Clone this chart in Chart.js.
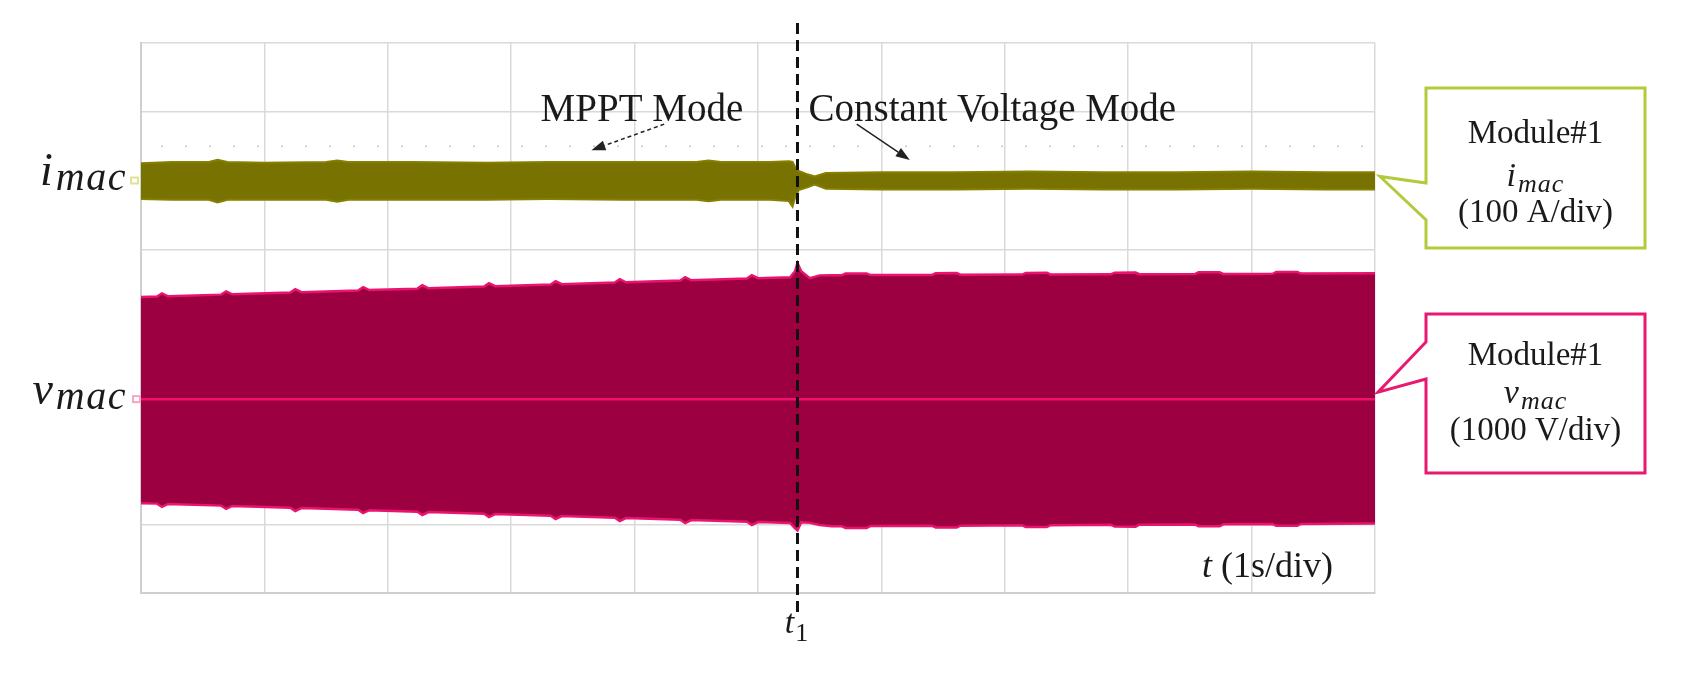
<!DOCTYPE html>
<html>
<head>
<meta charset="utf-8">
<script src="https://cdn.jsdelivr.net/npm/chart.js@4.4.1/dist/chart.umd.min.js"></script>
<style>
  html, body { margin: 0; padding: 0; background: #fff; }
  #wrap { width: 1700px; height: 679px; position: relative; }
</style>
</head>
<body>
<div id="wrap"><canvas id="scope"></canvas></div>
<script>
// scope screen: 10 div x 8 div, 1 s/div
const T1 = 5.32;          // switch MPPT -> CV (s)
const I_POS = 2.0;        // channel offsets (div)
const V_POS = -1.18;
const I_SCALE = 100;      // A/div
const V_SCALE = 1000;     // V/div

// i_mac envelope (A)
const iT  = [0, 0.25, 0.55, 0.62, 0.70, 1.0, 1.5, 1.59, 1.68, 2.2, 2.8, 3.3, 3.9, 4.5, 4.6, 4.7, 5.1, 5.25, 5.28, 5.30, 5.33, 5.40, 5.46, 5.55, 6.0, 6.6, 7.2, 7.8, 8.4, 9.0, 9.6, 10];
const iHi = [25, 27, 27, 30, 27, 26, 27, 29, 27, 27, 26, 27, 27, 27, 29, 27, 27, 28, 27, 20, 14, 9, 6, 11, 12, 12, 13, 12, 12, 13, 12, 12];
const iLo = [-27, -28, -28, -32, -28, -28, -28, -31, -28, -28, -28, -27, -28, -28, -30, -28, -28, -30, -38, -25, -14, -10, -6, -12, -13, -13, -12, -13, -13, -12, -13, -13];

// v_mac envelope (V)
const vT = [0,
  0.13, 0.17, 0.22, 0.65, 0.69, 0.74, 1.21, 1.25, 1.30, 1.76, 1.80, 1.85, 2.24, 2.28, 2.33,
  2.78, 2.82, 2.87, 3.32, 3.36, 3.41, 3.84, 3.88, 3.93, 4.37, 4.41, 4.46, 4.91, 4.95, 5.00,
  5.26, 5.30, 5.32, 5.35, 5.42, 5.50, 5.60,
  5.68, 5.71, 5.88, 5.91, 6.41, 6.44, 6.61, 6.64, 7.14, 7.17, 7.34, 7.37,
  7.86, 7.89, 8.06, 8.09, 8.54, 8.57, 8.74, 8.77, 9.17, 9.20, 9.37, 9.40, 10];
const vHi = [1484,
  1491, 1539, 1496, 1520, 1568, 1525, 1550, 1599, 1556, 1581, 1629, 1586, 1607, 1656, 1612,
  1637, 1685, 1642, 1667, 1715, 1672, 1695, 1744, 1700, 1724, 1773, 1729, 1754, 1802, 1759,
  1773, 1860, 1980, 1860, 1760, 1800, 1802,
  1803, 1828, 1829, 1805, 1807, 1832, 1833, 1809, 1811, 1836, 1837, 1813,
  1815, 1840, 1841, 1817, 1819, 1844, 1845, 1821, 1823, 1848, 1849, 1826, 1830];
const vLo = [-1513,
  -1520, -1568, -1525, -1549, -1597, -1554, -1580, -1628, -1585, -1610, -1658, -1615, -1637, -1685, -1642,
  -1666, -1714, -1671, -1696, -1744, -1701, -1725, -1773, -1730, -1754, -1802, -1759, -1783, -1831, -1788,
  -1802, -1880, -1910, -1790, -1800, -1830, -1850,
  -1849, -1874, -1875, -1847, -1842, -1867, -1868, -1840, -1835, -1860, -1861, -1833,
  -1829, -1854, -1855, -1827, -1823, -1848, -1849, -1821, -1817, -1842, -1843, -1815, -1810];

const serif = '"Liberation Serif", "DejaVu Serif", serif';

function toDiv(ts, vals, pos, scale) {
  return ts.map((t, k) => ({ x: t, y: pos + vals[k] / scale }));
}

function arrow(ctx, x0, y0, x1, y1, dash) {
  ctx.save();
  ctx.strokeStyle = '#222';
  ctx.fillStyle = '#222';
  ctx.lineWidth = 1.5;
  ctx.setLineDash(dash || []);
  const a = Math.atan2(y1 - y0, x1 - x0);
  const hx = x1 - 14 * Math.cos(a), hy = y1 - 14 * Math.sin(a);
  ctx.beginPath(); ctx.moveTo(x0, y0); ctx.lineTo(hx, hy); ctx.stroke();
  ctx.setLineDash([]);
  ctx.beginPath();
  ctx.moveTo(x1, y1);
  ctx.lineTo(hx + 5 * Math.sin(a), hy - 5 * Math.cos(a));
  ctx.lineTo(hx - 5 * Math.sin(a), hy + 5 * Math.cos(a));
  ctx.closePath(); ctx.fill();
  ctx.restore();
}

// italic symbol + subscript; o = {size, subSize, drop, gap, spacing, subItalic, align}
function mathLabel(ctx, x, y, main, sub, o) {
  const subFont = (o.subItalic === false ? '' : 'italic ') + o.subSize + 'px ' + serif;
  ctx.save();
  ctx.fillStyle = '#1a1a1a';
  ctx.textBaseline = 'alphabetic';
  ctx.textAlign = 'left';
  ctx.font = 'italic ' + o.size + 'px ' + serif;
  const w1 = ctx.measureText(main).width;
  ctx.font = subFont;
  ctx.letterSpacing = (o.spacing || 0) + 'px';
  const w2 = ctx.measureText(sub).width;
  const gap = o.gap || 2;
  let x0 = x;
  if (o.align === 'right') x0 = x - w1 - w2 - gap;
  if (o.align === 'center') x0 = x - (w1 + w2 + gap) / 2;
  ctx.letterSpacing = '0px';
  ctx.font = 'italic ' + o.size + 'px ' + serif;
  ctx.fillText(main, x0, y);
  ctx.font = subFont;
  ctx.letterSpacing = (o.spacing || 0) + 'px';
  ctx.fillText(sub, x0 + w1 + gap, y + o.drop);
  ctx.restore();
}

function callout(ctx, box, tip, n1, n2, color) {
  ctx.save();
  ctx.strokeStyle = color;
  ctx.lineWidth = 3;
  ctx.beginPath();
  ctx.moveTo(box.l, box.t);
  ctx.lineTo(box.r, box.t);
  ctx.lineTo(box.r, box.b);
  ctx.lineTo(box.l, box.b);
  ctx.lineTo(box.l, n2);
  ctx.lineTo(tip.x, tip.y);
  ctx.lineTo(box.l, n1);
  ctx.closePath();
  ctx.fillStyle = '#fff';
  ctx.fill();
  ctx.stroke();
  ctx.restore();
}

const overlay = {
  id: 'overlay',
  afterDraw(chart) {
    const ctx = chart.ctx;
    const xs = chart.scales.x, ys = chart.scales.y;
    const px = t => xs.getPixelForValue(t);
    const py = d => ys.getPixelForValue(d);
    const area = chart.chartArea;

    // small ground markers
    ctx.save();
    ctx.lineWidth = 2;
    ctx.strokeStyle = '#dfe39a';
    ctx.strokeRect(area.left - 10, py(I_POS) - 3, 7, 6);
    ctx.strokeStyle = '#f3a6c6';
    ctx.strokeRect(area.left - 8, py(V_POS) - 3, 7, 6);
    ctx.restore();

    // t1 marker
    const xt = px(T1);
    ctx.save();
    ctx.strokeStyle = '#111';
    ctx.lineWidth = 3;
    ctx.setLineDash([11, 6]);
    ctx.beginPath();
    ctx.moveTo(xt, area.top - 20);
    ctx.lineTo(xt, area.bottom + 22);
    ctx.stroke();
    ctx.restore();
    mathLabel(ctx, xt - 1, area.bottom + 40, 't', '1',
      { size: 34, subSize: 26, drop: 8, gap: 1, subItalic: false, align: 'center' });

    // mode annotations
    ctx.save();
    ctx.fillStyle = '#1a1a1a';
    ctx.font = '39px ' + serif;
    ctx.textBaseline = 'middle';
    ctx.textAlign = 'right';
    ctx.fillText('MPPT Mode', px(4.88), py(3.02));
    ctx.textAlign = 'left';
    ctx.fillText('Constant Voltage Mode', px(5.41), py(3.02));
    ctx.restore();
    arrow(ctx, px(4.24), py(2.82), px(3.65), py(2.44), [4, 3]);
    arrow(ctx, px(5.80), py(2.82), px(6.23), py(2.30));

    // time base label
    ctx.save();
    ctx.fillStyle = '#1a1a1a';
    ctx.textBaseline = 'alphabetic';
    ctx.textAlign = 'right';
    ctx.font = '36px ' + serif;
    const rest = ' (1s/div)';
    const wr = ctx.measureText(rest).width;
    const yb = py(-3.59) + 12;
    ctx.fillText(rest, px(9.66), yb);
    ctx.font = 'italic 36px ' + serif;
    ctx.fillText('t', px(9.66) - wr, yb);
    ctx.restore();

    // channel labels on the left
    const lab = { size: 46, subSize: 40, drop: 5, gap: 3, spacing: 1.5, align: 'right' };
    mathLabel(ctx, area.left - 14, py(I_POS) + 4, 'i', 'mac', lab);
    mathLabel(ctx, area.left - 14, py(V_POS) + 5, 'v', 'mac', lab);

    // callout boxes
    const bl = area.right + 51, br = area.right + 270, cx = (bl + br) / 2;
    callout(ctx, { l: bl, r: br, t: 88, b: 248 }, { x: area.right + 5, y: py(I_POS) - 4 }, 183, 220, '#b5c93c');
    callout(ctx, { l: bl, r: br, t: 314, b: 473 }, { x: area.right + 3, y: py(V_POS) - 7 }, 342, 379, '#e8196e');

    ctx.save();
    ctx.fillStyle = '#1a1a1a';
    ctx.textAlign = 'center';
    ctx.textBaseline = 'middle';
    ctx.font = '33px ' + serif;
    ctx.fillText('Module#1', cx, 134);
    ctx.fillText('(100 A/div)', cx, 213);
    ctx.fillText('Module#1', cx, 356);
    ctx.fillText('(1000 V/div)', cx, 431);
    ctx.restore();
    const box = { size: 34, subSize: 26, drop: 6, gap: 2, spacing: 1, align: 'center' };
    mathLabel(ctx, cx, 186, 'i', 'mac', box);
    mathLabel(ctx, cx, 403, 'v', 'mac', box);
  },
  beforeDatasetsDraw(chart) {
    // faint dotted reference line
    const ctx = chart.ctx, a = chart.chartArea;
    const y = chart.scales.y.getPixelForValue(2.5);
    ctx.save();
    ctx.strokeStyle = '#d2d2d2';
    ctx.lineWidth = 2;
    ctx.setLineDash([2, 22]);
    ctx.beginPath();
    ctx.moveTo(a.left + 20, y);
    ctx.lineTo(a.right, y);
    ctx.stroke();
    ctx.restore();
  }
};

new Chart(document.getElementById('scope'), {
  type: 'line',
  data: {
    datasets: [
      { data: [{ x: 0, y: V_POS }, { x: 10, y: V_POS }], borderColor: '#f0106e', borderWidth: 2.5, fill: false },
      { data: toDiv(iT, iHi, I_POS, I_SCALE), borderColor: '#867f00', borderWidth: 2, fill: false },
      { data: toDiv(iT, iLo, I_POS, I_SCALE), borderColor: '#867f00', borderWidth: 2, fill: '-1', backgroundColor: '#787200' },
      { data: toDiv(vT, vHi, V_POS, V_SCALE), borderColor: '#ea1370', borderWidth: 2.5, fill: false },
      { data: toDiv(vT, vLo, V_POS, V_SCALE), borderColor: '#ea1370', borderWidth: 2.5, fill: '-1', backgroundColor: '#9c0040' }
    ]
  },
  options: {
    responsive: true,
    maintainAspectRatio: false,
    animation: false,
    layout: { padding: { left: 141, right: 325, top: 43, bottom: 86 } },
    elements: { point: { radius: 0 }, line: { tension: 0 } },
    plugins: { legend: { display: false }, tooltip: { enabled: false } },
    scales: {
      x: {
        type: 'linear', min: 0, max: 10,
        ticks: { display: false, stepSize: 1 },
        grid: { color: '#dadada', lineWidth: 1.5, drawTicks: false },
        border: { color: '#cfcfcf', width: 2 }
      },
      y: {
        min: -4, max: 4,
        ticks: { display: false, stepSize: 1 },
        grid: { color: '#dadada', lineWidth: 1.5, drawTicks: false },
        border: { color: '#cfcfcf', width: 2 }
      }
    }
  },
  plugins: [overlay]
});
</script>
</body>
</html>
